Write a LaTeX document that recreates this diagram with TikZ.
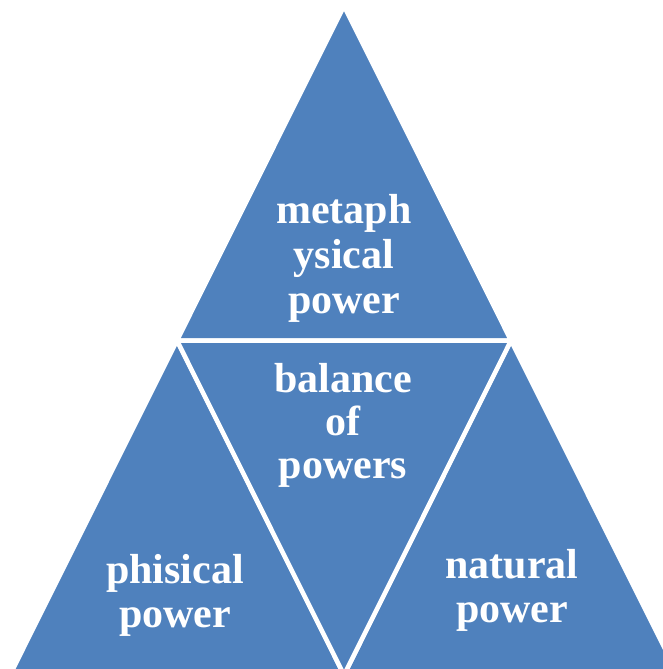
\documentclass[tikz,border=0pt]{standalone}
\usepackage{fontspec}
\setmainfont{Liberation Serif}
\definecolor{triblue}{HTML}{4F81BD}
\tikzset{
  tri/.style={fill=triblue, draw=white, line width=4.5pt, line join=miter},
  lbl/.style={text=white, font=\bfseries\fontsize{42}{45}\selectfont, anchor=base, inner sep=0pt}
}
\begin{document}
\begin{tikzpicture}[x=1pt,y=-1pt]
\useasboundingbox (0,0) rectangle (663,669);
\clip (0,0) rectangle (663,669);
\coordinate (A) at (344,6);
\coordinate (L) at (177,340.5);
\coordinate (R) at (511,340.5);
\coordinate (BL) at (10,675);
\coordinate (BM) at (344,675);
\coordinate (BR) at (678,675);
\draw[tri] (A) -- (L) -- (R) -- cycle;
\draw[tri] (L) -- (BL) -- (BM) -- cycle;
\draw[tri] (R) -- (BM) -- (BR) -- cycle;
\draw[tri] (L) -- (R) -- (BM) -- cycle;
\node[lbl] (m1) at (344,223) {metaph};
\node[lbl] (m2) at (344,268) {ysical};
\node[lbl] (m3) at (344,313) {power};
\node[lbl] (b1) at (343,392) {balance};
\node[lbl] (b2) at (343,435) {of};
\node[lbl] (b3) at (343,478) {powers};
\node[lbl] (p1) at (175,583) {phisical};
\node[lbl] (p2) at (175,627) {power};
\node[lbl] (n1) at (512,578) {natural};
\node[lbl] (n2) at (512,622) {power};
\end{tikzpicture}
\end{document}
